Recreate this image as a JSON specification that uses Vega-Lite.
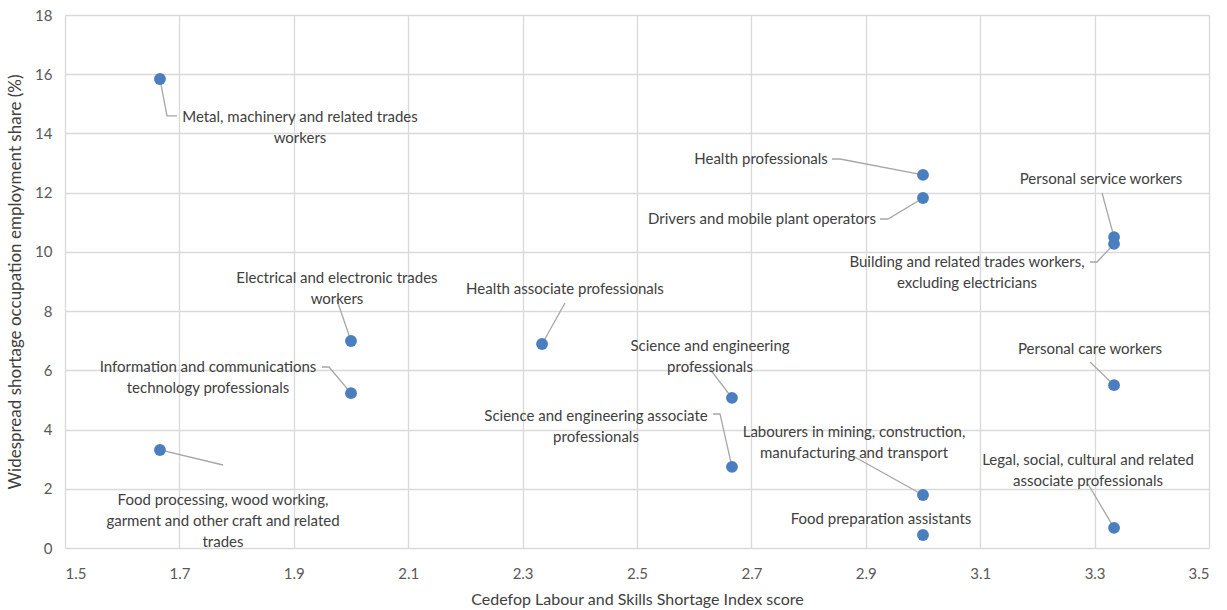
{
  "$schema": "https://vega.github.io/schema/vega-lite/v6.json",
  "width": 1144,
  "height": 533,
  "autosize": {"type": "none"},
  "padding": {"left": 65, "top": 15, "right": 18, "bottom": 62},
  "background": "white",
  "config": {
    "view": {"stroke": null},
    "font": "Lato",
    "axis": {
      "gridColor": "#d9d9d9",
      "gridWidth": 1.3,
      "domain": false,
      "ticks": false,
      "labelColor": "#595959",
      "labelFontSize": 15,
      "labelFont": "Lato",
      "titleFont": "Lato",
      "titleFontSize": 16,
      "titleFontWeight": "normal",
      "titleColor": "#404040"
    }
  },
  "datasets": {
    "points": [
      {"name": "Metal", "x": 1.666, "y": 15.84, "lx": 1.9108, "ly": 14.54, "label": "Metal, machinery and related trades\nworkers"},
      {"name": "Electrical", "x": 2.0, "y": 6.99, "lx": 1.9755, "ly": 9.135, "label": "Electrical and electronic trades\nworkers"},
      {"name": "ICT", "x": 2.0, "y": 5.23, "lx": 1.75, "ly": 6.096, "label": "Information and communications\ntechnology professionals"},
      {"name": "FoodProc", "x": 1.666, "y": 3.31, "lx": 1.7762, "ly": 1.621, "label": "Food processing, wood working,\ngarment and other craft and related\ntrades"},
      {"name": "HealthAssoc", "x": 2.334, "y": 6.89, "lx": 2.374, "ly": 8.747, "label": "Health associate professionals"},
      {"name": "SciProf", "x": 2.666, "y": 5.07, "lx": 2.6276, "ly": 6.822, "label": "Science and engineering\nprofessionals"},
      {"name": "SciAssoc", "x": 2.666, "y": 2.74, "lx": 2.4283, "ly": 4.441, "label": "Science and engineering associate\nprofessionals"},
      {"name": "HealthProf", "x": 3.0, "y": 12.6, "lx": 2.7168, "ly": 13.137, "label": "Health professionals"},
      {"name": "Drivers", "x": 3.0, "y": 11.82, "lx": 2.7185, "ly": 11.111, "label": "Drivers and mobile plant operators"},
      {"name": "Labourers", "x": 3.0, "y": 1.79, "lx": 2.8794, "ly": 3.901, "label": "Labourers in mining, construction,\nmanufacturing and transport"},
      {"name": "FoodPrep", "x": 3.0, "y": 0.44, "lx": 2.9266, "ly": 0.979, "label": "Food preparation assistants"},
      {"name": "PersService", "x": 3.334, "y": 10.5, "lx": 3.3112, "ly": 12.462, "label": "Personal service workers"},
      {"name": "Building", "x": 3.334, "y": 10.27, "lx": 3.0769, "ly": 9.659, "label": "Building and related trades workers,\nexcluding electricians"},
      {"name": "PersCare", "x": 3.334, "y": 5.5, "lx": 3.292, "ly": 6.721, "label": "Personal care workers"},
      {"name": "Legal", "x": 3.334, "y": 0.68, "lx": 3.2885, "ly": 2.955, "label": "Legal, social, cultural and related\nassociate professionals"}
    ],
    "leaders": [
      {"name": "Metal", "o": 1, "x": 1.6958, "y": 14.59},
      {"name": "Metal", "o": 2, "x": 1.6783, "y": 14.59},
      {"name": "Metal", "o": 3, "x": 1.666, "y": 15.84},
      {"name": "Electrical", "o": 1, "x": 1.9755, "y": 8.376},
      {"name": "Electrical", "o": 2, "x": 2.0, "y": 6.99},
      {"name": "ICT", "o": 1, "x": 1.9493, "y": 6.113},
      {"name": "ICT", "o": 2, "x": 1.9615, "y": 6.113},
      {"name": "ICT", "o": 3, "x": 2.0, "y": 5.23},
      {"name": "FoodProc", "o": 1, "x": 1.7762, "y": 2.803},
      {"name": "FoodProc", "o": 2, "x": 1.666, "y": 3.31},
      {"name": "HealthAssoc", "o": 1, "x": 2.3741, "y": 8.274},
      {"name": "HealthAssoc", "o": 2, "x": 2.334, "y": 6.89},
      {"name": "SciProf", "o": 1, "x": 2.6276, "y": 6.045},
      {"name": "SciProf", "o": 2, "x": 2.666, "y": 5.07},
      {"name": "SciAssoc", "o": 1, "x": 2.6329, "y": 4.526},
      {"name": "SciAssoc", "o": 2, "x": 2.6451, "y": 4.526},
      {"name": "SciAssoc", "o": 3, "x": 2.666, "y": 2.74},
      {"name": "HealthProf", "o": 1, "x": 2.8409, "y": 13.137},
      {"name": "HealthProf", "o": 2, "x": 2.855, "y": 13.137},
      {"name": "HealthProf", "o": 3, "x": 3.0, "y": 12.6},
      {"name": "Drivers", "o": 1, "x": 2.9248, "y": 11.111},
      {"name": "Drivers", "o": 2, "x": 2.9388, "y": 11.111},
      {"name": "Drivers", "o": 3, "x": 3.0, "y": 11.82},
      {"name": "PersService", "o": 1, "x": 3.313, "y": 11.99},
      {"name": "PersService", "o": 2, "x": 3.334, "y": 10.5},
      {"name": "Building", "o": 1, "x": 3.292, "y": 9.659},
      {"name": "Building", "o": 2, "x": 3.3042, "y": 9.659},
      {"name": "Building", "o": 3, "x": 3.334, "y": 10.27},
      {"name": "PersCare", "o": 1, "x": 3.292, "y": 6.282},
      {"name": "PersCare", "o": 2, "x": 3.334, "y": 5.5},
      {"name": "Labourers", "o": 1, "x": 2.8776, "y": 3.107},
      {"name": "Labourers", "o": 2, "x": 3.0, "y": 1.79},
      {"name": "Legal", "o": 1, "x": 3.2885, "y": 2.161},
      {"name": "Legal", "o": 2, "x": 3.334, "y": 0.68}
    ]
  },
  "layer": [
    {
      "data": {"name": "leaders"},
      "mark": {"type": "line", "color": "#a6a6a6", "strokeWidth": 1.3},
      "encoding": {
        "x": {"field": "x", "type": "quantitative", "scale": {"domain": [1.5, 3.5], "nice": false, "zero": false},
          "axis": {"values": [1.5, 1.7, 1.9, 2.1, 2.3, 2.5, 2.7, 2.9, 3.1, 3.3, 3.5], "format": ".1f", "labelPadding": 18, "title": "Cedefop Labour and Skills Shortage Index score", "titlePadding": 10}},
        "y": {"field": "y", "type": "quantitative", "scale": {"domain": [0, 18], "nice": false},
          "axis": {"values": [0, 2, 4, 6, 8, 10, 12, 14, 16, 18], "labelPadding": 13, "title": "Widespread shortage occupation employment share (%)", "titlePadding": 10, "titleFontSize": 17}},
        "detail": {"field": "name"},
        "order": {"field": "o", "type": "quantitative"}
      }
    },
    {
      "data": {"name": "points"},
      "mark": {"type": "circle", "color": "#4a7ebf", "opacity": 1, "size": 140},
      "encoding": {
        "x": {"field": "x", "type": "quantitative"},
        "y": {"field": "y", "type": "quantitative"}
      }
    },
    {
      "data": {"name": "points"},
      "mark": {"type": "text", "font": "Lato", "fontSize": 15, "color": "#404040", "align": "center", "baseline": "middle", "lineBreak": "\n", "lineHeight": 21},
      "encoding": {
        "x": {"field": "lx", "type": "quantitative"},
        "y": {"field": "ly", "type": "quantitative"},
        "text": {"field": "label"}
      }
    }
  ]
}
